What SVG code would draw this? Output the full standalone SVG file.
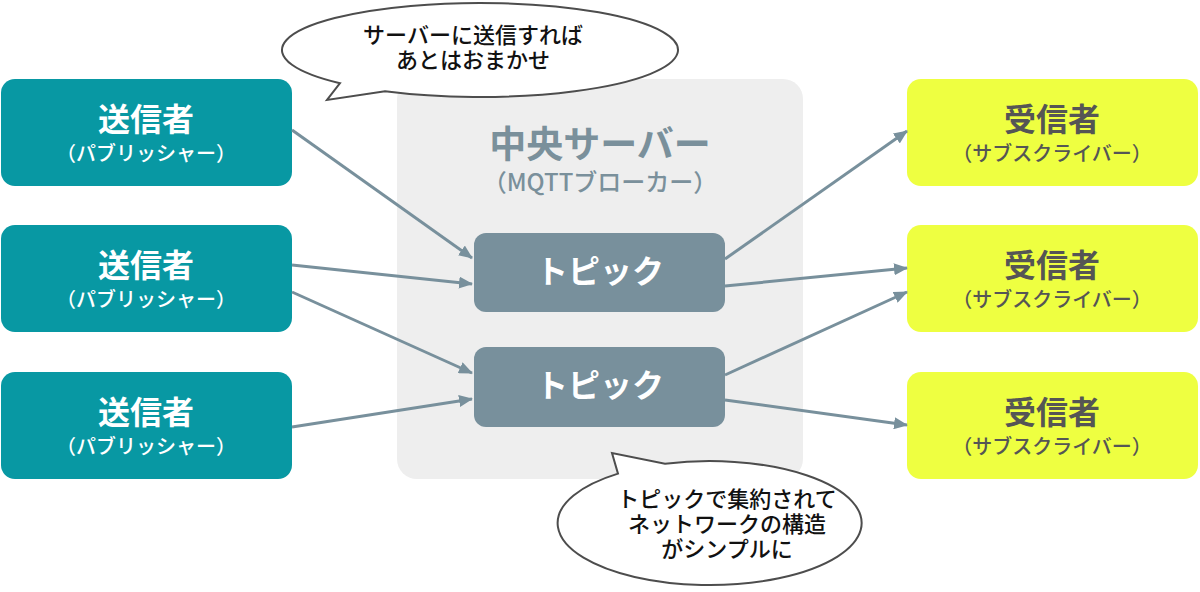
<svg xmlns="http://www.w3.org/2000/svg" width="1200" height="592" viewBox="0 0 1200 592">
<style>
text{font-family:"Noto Sans CJK JP","Noto Sans",sans-serif;text-anchor:middle}
.pub rect{fill:#0898a3}
.sub rect{fill:#eeff41}
.title{font-size:32px;font-weight:700}
.small{font-size:20px;font-weight:500}
.pub text{fill:#fff}
.sub text{fill:#555}
.topic rect{fill:#78909c}
.topic text{fill:#fff;font-size:32px;font-weight:700}
.bubble path{fill:#fff;stroke:#4d4d4d;stroke-width:2}
.bubble text{fill:#111;font-size:22px;font-weight:500}
.conn line{stroke:#78909c;stroke-width:3;marker-end:url(#ah)}
</style>
<defs>
<marker id="ah" markerUnits="userSpaceOnUse" markerWidth="14" markerHeight="12" refX="13" refY="6" orient="auto">
<path d="M0,0 L14,6 L0,12 Z" fill="#78909c"/>
</marker>
</defs>
<rect width="1200" height="592" fill="#fff"/>
<g id="server">
<rect x="397" y="79" width="406" height="400" rx="20" fill="#eeeeee"/>
<text x="600" y="158" font-size="37" font-weight="700" fill="#7a909b">中央サーバー</text>
<text x="600" y="191" font-size="24" font-weight="500" fill="#7a909b">（MQTTブローカー）</text>
</g>
<g id="pub1" class="pub"><rect x="1" y="79" width="291" height="107" rx="14"/><text class="title" x="146" y="131">送信者</text><text class="small" x="146" y="161">（パブリッシャー）</text></g>
<g id="pub2" class="pub"><rect x="1" y="225" width="291" height="107" rx="14"/><text class="title" x="146" y="277">送信者</text><text class="small" x="146" y="307">（パブリッシャー）</text></g>
<g id="pub3" class="pub"><rect x="1" y="372" width="291" height="107" rx="14"/><text class="title" x="146" y="424">送信者</text><text class="small" x="146" y="454">（パブリッシャー）</text></g>
<g id="sub1" class="sub"><rect x="907" y="79" width="291" height="107" rx="14"/><text class="title" x="1052" y="131">受信者</text><text class="small" x="1052" y="161">（サブスクライバー）</text></g>
<g id="sub2" class="sub"><rect x="907" y="225" width="291" height="107" rx="14"/><text class="title" x="1052" y="277">受信者</text><text class="small" x="1052" y="307">（サブスクライバー）</text></g>
<g id="sub3" class="sub"><rect x="907" y="372" width="291" height="107" rx="14"/><text class="title" x="1052" y="424">受信者</text><text class="small" x="1052" y="454">（サブスクライバー）</text></g>
<g id="topic1" class="topic"><rect x="474" y="233" width="251" height="79" rx="12"/><text x="600" y="283">トピック</text></g>
<g id="topic2" class="topic"><rect x="474" y="347" width="251" height="80" rx="12"/><text x="600" y="397">トピック</text></g>
<g id="connectors" class="conn">
<line x1="292" y1="130" x2="472" y2="258"/>
<line x1="292" y1="265" x2="472" y2="284"/>
<line x1="292" y1="292" x2="472" y2="373"/>
<line x1="292" y1="427" x2="472" y2="399"/>
<line x1="725" y1="259" x2="907" y2="131"/>
<line x1="725" y1="286" x2="907" y2="268"/>
<line x1="725" y1="375" x2="907" y2="292"/>
<line x1="725" y1="400" x2="907" y2="425"/>
</g>
<g id="bubble1" class="bubble">
<path d="M340,83.2 A198 47 0 1 1 385,91.2 L327,100 Z"/>
<text x="473" y="43">サーバーに送信すれば</text>
<text x="473" y="68">あとはおまかせ</text>
</g>
<g id="bubble2" class="bubble">
<path d="M665,463.8 A152 62 0 1 1 618,473.6 L612,453 Z"/>
<text x="727" y="507">トピックで集約されて</text>
<text x="727" y="532">ネットワークの構造</text>
<text x="727" y="557">がシンプルに</text>
</g>
</svg>
